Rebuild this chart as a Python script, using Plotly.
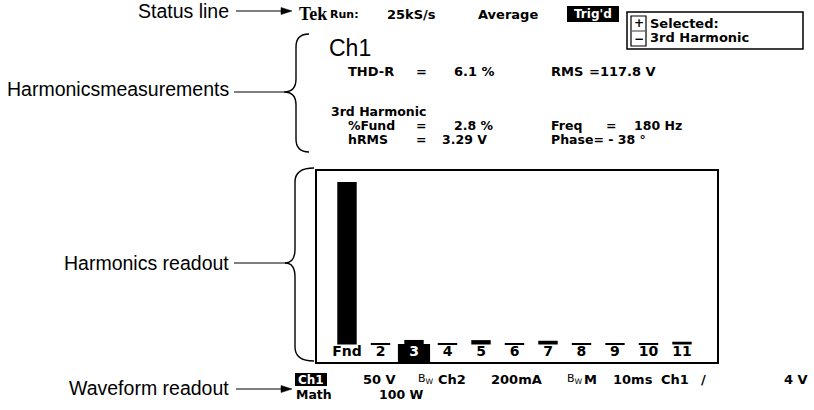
import plotly.graph_objects as go

# ---------------- data ----------------
categories = ["Fnd", "2", "3", "4", "5", "6", "7", "8", "9", "10", "11"]
pct_of_fund = [100, 0.6, 2.8, 0.6, 2.7, 0.5, 2.3, 0.5, 0.8, 0.5, 1.7]
selected_harmonic = "3"

status_items = ["Run:", "25kS/s", "Average", "Trig'd"]
selected_lines = ["Selected:", "3rd Harmonic"]
channel = "Ch1"
thd_r = "6.1 %"
rms = "=117.8 V"
harm_title = "3rd Harmonic"
pct_fund_txt = "2.8 %"
hrms_txt = "3.29 V"
freq_txt = "180 Hz"
phase_txt = "Phase= - 38 °"
callouts = ["Status line", "Harmonicsmeasurements", "Harmonics readout", "Waveform readout"]

# ---------------- layout helpers ----------------
W, H = 814, 410
def px(x):
    return x / W
def py(y):
    return 1 - y / H

SANS = "DejaVu Sans"
HELV = "Liberation Sans, Arial, sans-serif"
SERIF = "Liberation Serif, DejaVu Serif, serif"

annotations = []
shapes = []

def T(x, y, text, size=13, family=SANS, color="black", bold=True, xanchor="left"):
    annotations.append(dict(
        x=px(x), y=py(y), xref="paper", yref="paper",
        text=(f"<b>{text}</b>" if bold else text),
        showarrow=False, xanchor=xanchor, yanchor="middle",
        font=dict(family=family, size=size, color=color),
        borderpad=0,
    ))

def rect(x0, y0, x1, y1, fill="black", line="black", lw=0):
    shapes.append(dict(type="rect", xref="paper", yref="paper",
                       x0=px(x0), x1=px(x1), y0=py(y0), y1=py(y1),
                       fillcolor=fill, line=dict(color=line, width=lw)))

def hline(x0, x1, y, lw=1):
    shapes.append(dict(type="line", xref="paper", yref="paper",
                       x0=px(x0), x1=px(x1), y0=py(y), y1=py(y),
                       line=dict(color="black", width=lw)))

def arrow(x_tail, x_head, y):
    hline(x_tail, x_head - 8, y, lw=1.1)
    P = lambda x, yy: f"{px(x)},{py(yy)}"
    d = f"M {P(x_head - 11, y - 3.5)} L {P(x_head, y)} L {P(x_head - 11, y + 3.5)} Z"
    shapes.append(dict(type="path", xref="paper", yref="paper", path=d,
                       fillcolor="black", line=dict(color="black", width=0.5)))

def brace(x_end, x_mid, x_tip, y_top, y_tip, y_bot, r):
    P = lambda x, y: f"{px(x)},{py(y)}"
    d = (f"M {P(x_end, y_top)} Q {P(x_mid, y_top)} {P(x_mid, y_top + r)} "
         f"L {P(x_mid, y_tip - r)} Q {P(x_mid, y_tip)} {P(x_tip, y_tip)} "
         f"Q {P(x_mid, y_tip)} {P(x_mid, y_tip + r)} "
         f"L {P(x_mid, y_bot - r)} Q {P(x_mid, y_bot)} {P(x_end, y_bot)}")
    shapes.append(dict(type="path", xref="paper", yref="paper", path=d,
                       line=dict(color="black", width=1.4)))

# ---------------- figure ----------------
idx = list(range(len(categories)))
fig = go.Figure()
fig.add_trace(go.Bar(x=idx, y=pct_of_fund, width=0.58,
                     marker=dict(color="black", line=dict(width=0)),
                     hoverinfo="skip"))
label_colors = ["white" if c == selected_harmonic else "black" for c in categories]
fig.add_trace(go.Scatter(x=idx, y=[-5.0] * len(idx), mode="text",
                         text=[f"<b>{c}</b>" for c in categories],
                         textposition="middle center",
                         textfont=dict(family=SANS, size=14, color=label_colors),
                         hoverinfo="skip"))

sel = categories.index(selected_harmonic)
shapes.append(dict(type="rect", xref="x", yref="y", x0=sel - 0.48, x1=sel + 0.48,
                   y0=-11, y1=0.25, fillcolor="black", line=dict(width=0), layer="below"))

# status line
T(298, 14, "Tek", size=18, family=SERIF)
T(329, 14, status_items[0], size=11)
T(386, 14, status_items[1], size=13)
T(477, 14, status_items[2], size=13)
rect(567, 6, 619, 22)
T(593, 14, status_items[3], size=12, color="white", xanchor="center")

# selected box
rect(627, 12, 803, 49, fill="white", line="black", lw=1.5)
shapes.append(dict(type="rect", xref="paper", yref="paper",
                   x0=px(631), x1=px(646), y0=py(16), y1=py(46),
                   fillcolor="white", line=dict(color="black", width=1.2)))
hline(632, 645, 31, lw=0.8)
T(638.5, 23, "+", size=12, xanchor="center")
T(638.5, 39, "−", size=12, xanchor="center")
T(649, 23, selected_lines[0], size=13)
T(649, 38, selected_lines[1], size=13)

# measurements
T(328, 48, channel, size=23, family=HELV, bold=False)
T(347, 72, "THD-R", size=13)
T(415, 72, "=", size=13)
T(453, 72, thd_r, size=13)
T(550, 72, "RMS", size=13)
T(588, 72, rms, size=13)
T(330, 111, harm_title, size=12.5)
T(347, 125, "%Fund", size=12.5)
T(415, 125, "=", size=12.5)
T(453, 125, pct_fund_txt, size=12.5)
T(550, 125, "Freq", size=12.5)
T(605, 125, "=", size=12.5)
T(633, 125, freq_txt, size=12.5)
T(347, 139, "hRMS", size=12.5)
T(415, 139, "=", size=12.5)
T(441, 139, hrms_txt, size=12.5)
T(550, 139, phase_txt, size=12.5)

# waveform readout
rect(295, 373, 327, 386)
T(311, 379.5, "Ch1", size=12, color="white", xanchor="center")
T(362, 379, "50 V", size=13)
T(417, 379, "B<sub>W</sub>", size=11, bold=False)
T(437, 379, "Ch2", size=13)
T(490, 379, "200mA", size=13)
T(566, 379, "B<sub>W</sub>", size=11, bold=False)
T(583, 379, "M", size=13)
T(612, 379, "10ms", size=13)
T(660, 379, "Ch1", size=13)
T(700, 379, "/", size=13)
T(783, 379, "4 V", size=13)
T(295, 394, "Math", size=12.5)
T(378, 394, "100 W", size=12.5)

# callouts
T(230, 11, callouts[0], size=19.5, family=HELV, bold=False, xanchor="right")
arrow(236, 292, 11)
T(230, 89, callouts[1], size=19.5, family=HELV, bold=False, xanchor="right")
hline(234, 284, 92, lw=1)
T(230, 263, callouts[2], size=19.5, family=HELV, bold=False, xanchor="right")
hline(234, 286, 263, lw=1)
T(230, 388, callouts[3], size=19.5, family=HELV, bold=False, xanchor="right")
arrow(236, 292, 389)

brace(309, 296, 284, 34, 92, 152, 13)
brace(314, 295, 285, 168, 263, 361, 14)

fig.update_layout(
    width=W, height=H, margin=dict(l=0, r=0, t=0, b=0),
    paper_bgcolor="white", plot_bgcolor="white", showlegend=False,
    annotations=annotations, shapes=shapes,
    xaxis=dict(domain=[317 / W, 717 / W], range=[-0.8955, 11.045],
               showgrid=False, zeroline=False, showticklabels=False, ticks="",
               showline=True, mirror=True, linecolor="black", linewidth=1.5),
    yaxis=dict(domain=[1 - 362 / H, 1 - 171 / H], range=[-10.77, 106.77],
               showgrid=False, zeroline=False, showticklabels=False, ticks="",
               showline=True, mirror=True, linecolor="black", linewidth=1.5),
)

fig.write_html("out.html", config={"displayModeBar": False},
               post_script="document.body.style.margin='0';")
